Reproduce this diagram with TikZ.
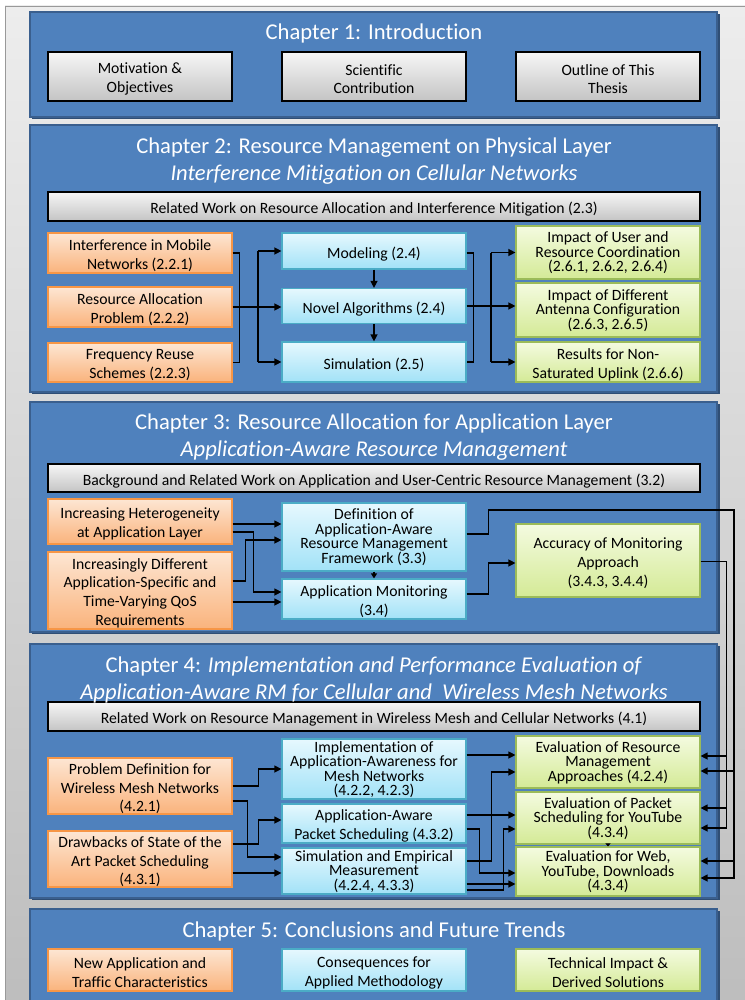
\documentclass[tikz,border=0pt]{standalone}
\usepackage{fontspec}
\setmainfont{Carlito}[Ligatures=NoCommon]
\usetikzlibrary{arrows.meta}
\definecolor{chblue}{HTML}{4F81BD}
\definecolor{chborder}{HTML}{3A5F8E}
\definecolor{chshadow}{HTML}{2F4E75}
\definecolor{grT}{HTML}{F6F6F6}
\definecolor{grB}{HTML}{C4C4C4}
\definecolor{orT}{HTML}{FDE6D3}
\definecolor{orB}{HTML}{FAB37C}
\definecolor{orD}{HTML}{F79646}
\definecolor{cyT}{HTML}{E6F8FE}
\definecolor{cyB}{HTML}{A2E2F7}
\definecolor{cyD}{HTML}{4BACC6}
\definecolor{gnT}{HTML}{F4FBE0}
\definecolor{gnB}{HTML}{D4EA96}
\definecolor{gnD}{HTML}{9BBB59}
\definecolor{bgT}{HTML}{EDEDED}
\definecolor{bgB}{HTML}{BDBDBD}
\newcommand{\bodyf}{\fontsize{15.7}{18.8}\selectfont\lineskiplimit=-20pt\relax}
\newcommand{\tightf}{\fontsize{15.7}{14.5}\selectfont\lineskiplimit=-20pt\relax}
% box node (named #2) with its text node (named #2t)
\newcommand{\boxnode}[5]{%
  \node[#1] (#2) at (#3) {};
  \node[txt,#4] (#2t) at (#2.center) {#5};}
\tikzset{
  basebox/.style={rectangle, inner sep=0pt, line width=1.2pt},
  txt/.style={align=center, inner sep=0pt, font=\bodyf, text=black, yshift=-2.7pt},
  graybox/.style={basebox, draw=black, top color=grT, bottom color=grB, minimum width=184pt},
  orangebox/.style={basebox, draw=orD, top color=orT, bottom color=orB, minimum width=184pt},
  cyanbox/.style={basebox, draw=cyD, top color=cyT, bottom color=cyB, minimum width=184pt},
  greenbox/.style={basebox, draw=gnD, top color=gnT, bottom color=gnB, minimum width=184pt},
  wide/.style={minimum width=652pt},
  hh/.style={minimum height=#1},
  tight/.style={font=\tightf, yshift=2.3pt},
  chtitle/.style={align=center, text=white, font=\fontsize{22.6}{27}\selectfont, inner sep=0pt},
  chapbox/.style={fill=chblue, draw=chborder, line width=1.5pt},
  conn/.style={draw=black, line width=1.3pt},
  arr/.style={conn, -{Triangle[length=7pt,width=7pt]}},
  rarr/.style={conn, {Triangle[length=7pt,width=7pt]}-},
  smallarr/.style={conn, -{Triangle[length=5pt,width=6pt]}},
  tinyarr/.style={conn, line width=1pt, -{Triangle[length=3pt,width=5pt]}}
}
\begin{document}
\begin{tikzpicture}[x=1pt,y=-1pt]
\useasboundingbox (0,0) rectangle (744,1000);
% background panel
\fill[white] (0,0) rectangle (744,1000);
\shade[top color=bgT, bottom color=bgB] (5,6) rectangle (760,1010);
\draw[black!40, line width=0.8pt] (5,1010) -- (5,6) -- (760,6);
% chapter boxes with shadows
\foreach \ya/\yb in {12/117, 125/392, 402/632, 644/898, 909/1006}{
  \fill[chshadow] (32,\ya+2) rectangle (719.5,\yb+2);
  \path[chapbox] (30,\ya) rectangle (717,\yb);
}
% ---------- Chapter 1
\node[chtitle] (t1) at (374,33.5) {Chapter 1: Introduction};
\boxnode{graybox, hh=49pt}{mot}{140,76.5}{}{Motivation \&\\Objectives}
\boxnode{graybox, hh=49pt}{sci}{374,76.5}{}{Scientific\\Contribution}
\boxnode{graybox, hh=49pt}{out}{608,76.5}{}{Outline of This\\Thesis}
% ---------- Chapter 2
\node[chtitle] (t2) at (374,161) {Chapter 2: Resource Management on Physical Layer\\\textit{Interference Mitigation on Cellular Networks}};
\boxnode{graybox, wide, hh=29pt}{rw2}{374,206.5}{}{Related Work on Resource Allocation and Interference Mitigation (2.3)}
\boxnode{orangebox, hh=40pt}{interf}{140,253}{}{Interference in Mobile\\Networks (2.2.1)}
\boxnode{orangebox, hh=40pt}{resal}{140,307}{}{Resource Allocation\\Problem (2.2.2)}
\boxnode{orangebox, hh=39pt}{freq}{140,362.5}{}{Frequency Reuse\\Schemes (2.2.3)}
\boxnode{cyanbox, hh=36pt}{model}{374,251}{}{Modeling (2.4)}
\boxnode{cyanbox, hh=35pt}{novel}{374,306}{}{Novel Algorithms (2.4)}
\boxnode{cyanbox, hh=40pt}{sim2}{374,362}{}{Simulation (2.5)}
\boxnode{greenbox, hh=53pt}{user}{608,252.5}{tight}{Impact of User and\\Resource Coordination\\(2.6.1, 2.6.2, 2.6.4)}
\boxnode{greenbox, hh=54pt}{ant}{608,310}{tight}{Impact of Different\\Antenna Configuration\\(2.6.3, 2.6.5)}
\boxnode{greenbox, hh=40pt}{res}{608,362}{}{Results for Non-\\Saturated Uplink (2.6.6)}
\coordinate (b2) at (258,300);
\coordinate (b3) at (491,300);
\draw[conn] (interf.east) -- ++(7,0) |- (freq.east);
\draw[arr] (resal.east) -- (resal.east -| novel.west);
\draw[conn] (b2 |- model.west) -- (b2 |- sim2.west);
\draw[arr] (b2 |- model.west) -- (model.west);
\draw[arr] (b2 |- sim2.west) -- (sim2.west);
\draw[arr] (model.south) -- (novel.north);
\draw[arr] (novel.south) -- (sim2.north);
\draw[conn] ([yshift=-2pt]model.east) -- ++(7,0) |- (sim2.east);
\draw[arr] (novel.east) -- (novel.east -| ant.west);
\draw[conn] (b3 |- user.west) -- (b3 |- res.west);
\draw[arr] (b3 |- user.west) -- (user.west);
\draw[arr] (b3 |- res.west) -- (res.west);
% ---------- Chapter 3
\node[chtitle] (t3) at (374,437) {Chapter 3: Resource Allocation for Application Layer\\\textit{Application-Aware Resource Management}};
\boxnode{graybox, wide, hh=28pt}{rw3}{374,478}{}{Background and Related Work on Application and User-Centric Resource Management (3.2)}
\boxnode{orangebox, hh=45pt}{hetero}{140,521.5}{}{Increasing Heterogeneity\\at Application Layer}
\boxnode{orangebox, hh=77pt}{diff}{140,590.5}{}{Increasingly Different\\Application-Specific and\\Time-Varying QoS\\Requirements}
\boxnode{cyanbox, hh=68pt}{def}{374,537}{tight}{Definition of\\Application-Aware\\Resource Management\\Framework (3.3)}
\boxnode{cyanbox, hh=40pt}{mon}{374,599}{}{Application Monitoring\\(3.4)}
\boxnode{greenbox, hh=73pt}{acc}{608,560.5}{}{Accuracy of Monitoring\\Approach\\(3.4.3, 3.4.4)}
\draw[arr] ([yshift=-2.5pt]hetero.east) -- ([yshift=-2.5pt]hetero.east -| def.west);
\draw[arr] ([yshift=-10.5pt]hetero.east) -- ++(21,0) |- ([yshift=7pt]mon.west);
\draw[arr] ([yshift=9.5pt]diff.east) -- ++(13,0) |- ([yshift=-3pt]def.west);
\draw[arr] ([yshift=-11.5pt]diff.east) -- ([yshift=-11.5pt]diff.east -| mon.west);
\draw[smallarr] (def.south) -- (mon.north);
\draw[arr] ([yshift=5pt]mon.east) -- ++(22,0) |- ([yshift=-2.5pt]acc.west);
% ---------- Chapter 4
\boxnode{graybox, wide, hh=29pt}{rw4}{374,716.5}{}{Related Work on Resource Management in Wireless Mesh and Cellular Networks (4.1)}
\node[chtitle] (t4) at (374,679.5) {Chapter 4: \textit{Implementation and Performance Evaluation of}\\\textit{Application-Aware RM for Cellular and\ \ Wireless Mesh Networks}};
\boxnode{orangebox, hh=56pt}{prob}{140,786}{}{Problem Definition for\\Wireless Mesh Networks\\(4.2.1)}
\boxnode{orangebox, hh=56pt}{drw}{140,859}{}{Drawbacks of State of the\\Art Packet Scheduling\\(4.3.1)}
\boxnode{cyanbox, hh=60pt}{impl}{374,769}{tight}{Implementation of\\Application-Awareness for\\Mesh Networks\\(4.2.2, 4.2.3)}
\boxnode{cyanbox, hh=39pt}{aps}{374,823.5}{}{Application-Aware\\Packet Scheduling (4.3.2)}
\boxnode{cyanbox, hh=46pt}{sime}{374,871}{tight}{Simulation and Empirical\\Measurement\\(4.2.4, 4.3.3)}
\boxnode{greenbox, hh=52pt}{evres}{608,762}{tight}{Evaluation of Resource\\Management\\Approaches (4.2.4)}
\boxnode{greenbox, hh=52pt}{evpkt}{608,818}{tight}{Evaluation of Packet\\Scheduling for YouTube\\(4.3.4)}
\boxnode{greenbox, hh=49pt}{evweb}{608,871.5}{tight}{Evaluation for Web,\\YouTube, Downloads\\(4.3.4)}
% left connectors
\draw[arr] (prob.east) -- ++(26,0) |- (impl.west);
\draw[arr] ([yshift=-15pt]prob.east) -- ++(15,0) |- ([yshift=14pt]sime.west);
\draw[arr] ([yshift=15pt]drw.east) -- ++(26,0) |- ([yshift=3.5pt]aps.west);
\draw[arr] ([yshift=-14pt]drw.east) -- ([yshift=-14pt]drw.east -| sime.west);
% right connectors
\draw[arr] ([yshift=14pt]impl.east) -- ([yshift=14pt]impl.east -| evres.west);
\draw[arr] ([yshift=10pt]sime.east) -- ++(25,0) |- ([yshift=-10pt]evres.west);
\draw[arr] ([yshift=8.5pt]aps.east) -- ([yshift=8.5pt]aps.east -| evpkt.west);
\draw[arr] ([yshift=-5.5pt]aps.east) -- ++(13,0) |- ([yshift=-1.5pt]evweb.west);
\draw[arr] ([yshift=-13pt]sime.east) -- ([yshift=-13pt]sime.east -| evweb.west);
\draw[arr] ([yshift=-19pt]sime.east) -- ++(37,0) |- ([yshift=-11pt]evpkt.west);
\draw[tinyarr] (evpkt.south) -- (evweb.north);
% long feedback lines on the right
\coordinate (r2) at (734,510);
\draw[arr] ([yshift=-1pt]acc.east) -- ++(26,0) |- ([yshift=-10pt]evpkt.east);
\draw[rarr] ([yshift=6pt]evres.east) -- ++(26,0);
\draw[rarr] ([yshift=10pt]evpkt.east) -- ++(26,0);
\draw[arr] ([yshift=3pt]def.east) -- ++(22,0) |- (r2) |- ([yshift=-6.5pt]evweb.east);
\draw[rarr] ([yshift=-9pt]evres.east) -- ++(34,0);
\draw[rarr] ([yshift=10.5pt]evweb.east) -- ++(34,0);
% ---------- Chapter 5
\node[chtitle] (t5) at (374,931.5) {Chapter 5: Conclusions and Future Trends};
\boxnode{orangebox, hh=42pt}{newapp}{140,970}{}{New Application and\\Traffic Characteristics}
\boxnode{cyanbox, hh=42pt}{cons}{374,970}{}{Consequences for\\Applied Methodology}
\boxnode{greenbox, hh=42pt}{tech}{608,970}{}{Technical Impact \&\\Derived Solutions}
\end{tikzpicture}
\end{document}
